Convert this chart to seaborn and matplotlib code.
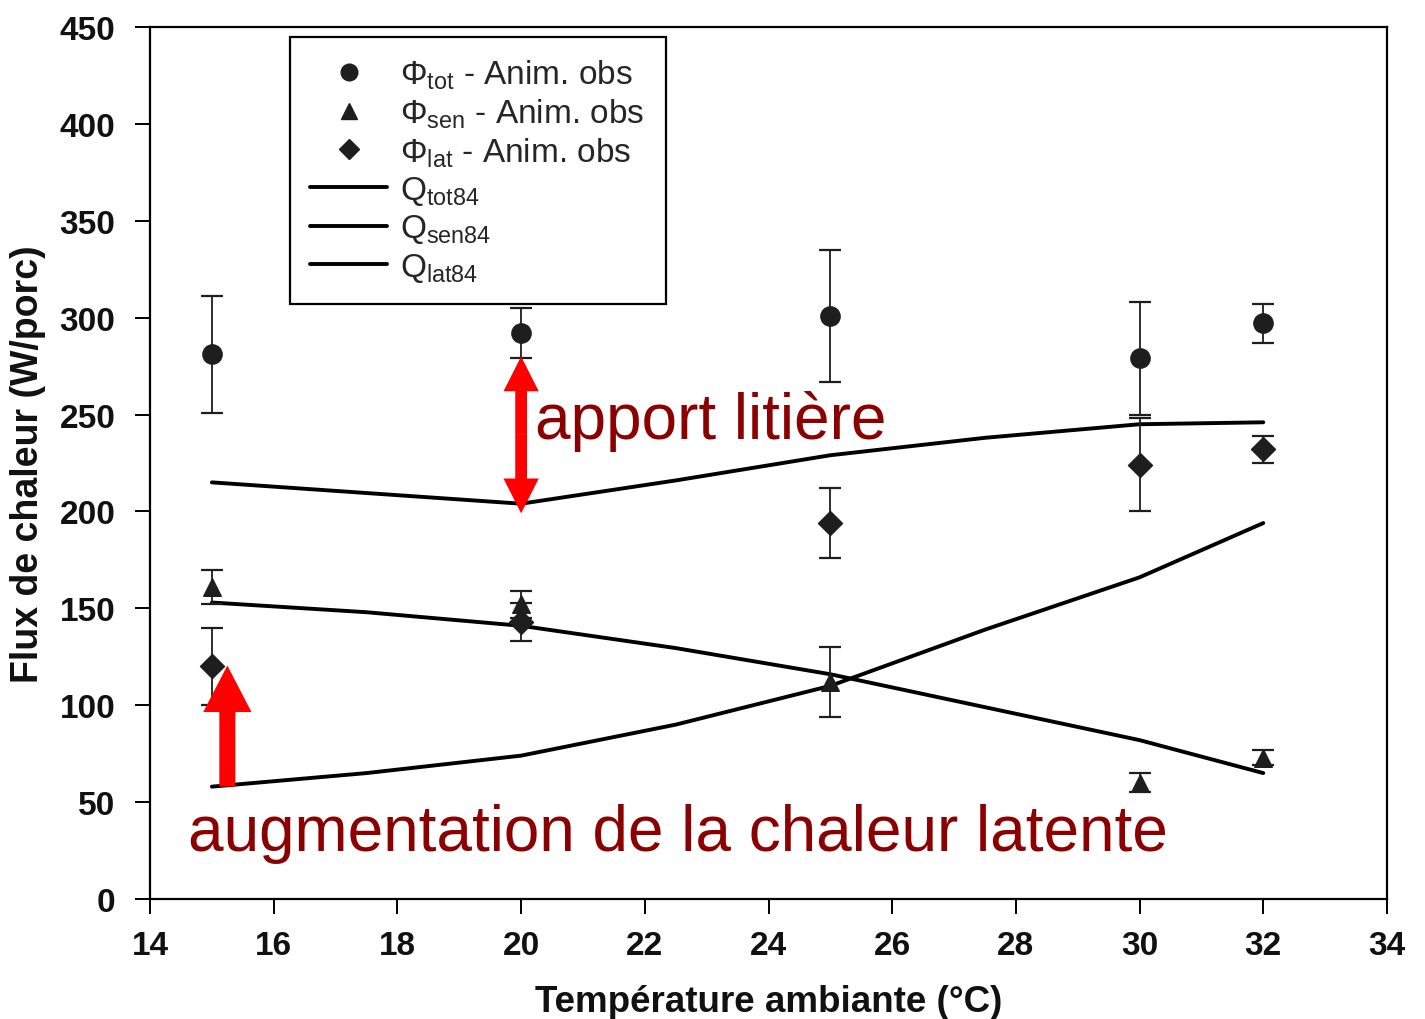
import matplotlib
matplotlib.use("Agg")
import matplotlib.pyplot as plt
from matplotlib.lines import Line2D
import seaborn as sns
import pandas as pd

# Observed animal heat fluxes (W/pig) at each ambient temperature
temp_obs = [15, 20, 25, 30, 32]
phi_tot = [281, 292, 301, 279, 297]
phi_tot_err = [30, 13, 34, 29, 10]
phi_sen = [161, 152, 112, 60, 73]
phi_sen_err = [9, 7, 18, 5, 4]
phi_lat = [120, 143, 194, 224, 232]
phi_lat_err = [20, 10, 18, 24, 7]

# Model curves (1984 reference equations)
temp_model = [15, 17.5, 20, 22.5, 25, 27.5, 30, 32]
q_tot84 = [215, 209.5, 204, 216, 229, 238, 245, 246]
q_sen84 = [153, 148, 141, 129.5, 116, 99, 82, 65]
q_lat84 = [58, 65, 74, 90, 110, 139, 166, 194]

# Annotation arrows
litter_x = 20.0
litter_from, litter_to = 199, 280
latent_x = 15.25
latent_from, latent_to = 58, 120.5

x_ticks = list(range(14, 35, 2))
y_ticks = list(range(0, 451, 50))

sns.set_theme(style="ticks")
plt.rcParams["font.family"] = ["Liberation Sans", "DejaVu Sans"]
plt.rcParams["mathtext.fontset"] = "custom"
plt.rcParams["mathtext.rm"] = "Liberation Sans"
plt.rcParams["mathtext.it"] = "Liberation Sans"

fig = plt.figure(figsize=(14.25, 10.2), dpi=100)
ax = fig.add_axes([0.1053, 0.1176, 0.868, 0.855])

ink = "#1e1e1e"
obs = pd.DataFrame({"T": temp_obs, "tot": phi_tot, "sen": phi_sen, "lat": phi_lat})
model = pd.DataFrame({"T": temp_model, "tot": q_tot84, "sen": q_sen84, "lat": q_lat84})

for col in ["tot", "sen", "lat"]:
    sns.lineplot(data=model, x="T", y=col, ax=ax, color="black", lw=2.8, legend=False)

for vals, errs in [(phi_tot, phi_tot_err), (phi_sen, phi_sen_err), (phi_lat, phi_lat_err)]:
    ax.errorbar(temp_obs, vals, yerr=errs, fmt="none", ecolor=ink, elinewidth=1.3,
                capsize=8, capthick=1.6, zorder=3)

sns.scatterplot(data=obs, x="T", y="tot", ax=ax, marker="o", s=190, color=ink,
                edgecolor=ink, zorder=4)
sns.scatterplot(data=obs, x="T", y="sen", ax=ax, marker="^", s=160, color=ink,
                edgecolor=ink, zorder=4)
sns.scatterplot(data=obs, x="T", y="lat", ax=ax, marker="D", s=150, color=ink,
                edgecolor=ink, zorder=4)

# Red arrows, sized in data units (x: ~61.85 px/°C, y: ~1.938 px/W)
red = "#ff0000"
mid = (litter_from + litter_to) / 2
for end in (litter_to, litter_from):
    ax.arrow(litter_x, mid, 0, end - mid, width=0.19, head_width=0.57,
             head_length=18, length_includes_head=True, color=red, lw=0, zorder=5)
ax.arrow(latent_x, latent_from, 0, latent_to - latent_from, width=0.26,
         head_width=0.78, head_length=24, length_includes_head=True,
         color=red, lw=0, zorder=5)

dark_red = "#8b0000"
ax.text(20.22, 247, "apport litière", color=dark_red, fontsize=46,
        ha="left", va="center", zorder=6)
ax.text(14.62, 34, "augmentation de la chaleur latente", color=dark_red, fontsize=46,
        ha="left", va="center", zorder=6)

ax.set_xlim(14, 34)
ax.set_ylim(0, 450)
ax.set_xticks(x_ticks)
ax.set_yticks(y_ticks)
ax.tick_params(axis="both", direction="out", length=11, width=1.4, colors="black",
               labelsize=24, pad=11)
ax.tick_params(axis="y", pad=14)
for lab in ax.get_xticklabels() + ax.get_yticklabels():
    lab.set_fontweight("bold")
    lab.set_color("#111111")
for s in ax.spines.values():
    s.set_visible(True)
    s.set_linewidth(1.6)
    s.set_color("black")

ax.set_xlabel("Température ambiante (°C)", fontsize=26.5, fontweight="bold",
              color="#111111", labelpad=17)
ax.set_ylabel("Flux de chaleur (W/porc)", fontsize=27, fontweight="bold",
              color="#111111", labelpad=10)

handles = [
    Line2D([], [], ls="none", marker="o", markersize=12, color=ink),
    Line2D([], [], ls="none", marker="^", markersize=11, color=ink),
    Line2D([], [], ls="none", marker="D", markersize=10, color=ink),
    Line2D([], [], color="black", lw=2.8),
    Line2D([], [], color="black", lw=2.8),
    Line2D([], [], color="black", lw=2.8),
]
labels = [
    r"$\Phi_{\mathrm{tot}}$ - Anim. obs",
    r"$\Phi_{\mathrm{sen}}$ - Anim. obs",
    r"$\Phi_{\mathrm{lat}}$ - Anim. obs",
    r"$\mathrm{Q}_{\mathrm{tot84}}$",
    r"$\mathrm{Q}_{\mathrm{sen84}}$",
    r"$\mathrm{Q}_{\mathrm{lat84}}$",
]
leg = ax.legend(handles, labels, loc="upper left", bbox_to_anchor=(0.113, 0.9885),
                borderaxespad=0, fontsize=24, frameon=True, fancybox=False,
                edgecolor="black", framealpha=1, handlelength=2.3,
                handletextpad=0.4, labelspacing=0.16, borderpad=0.62)
leg.get_frame().set_linewidth(1.6)

fig.savefig("out.png", dpi=100)
